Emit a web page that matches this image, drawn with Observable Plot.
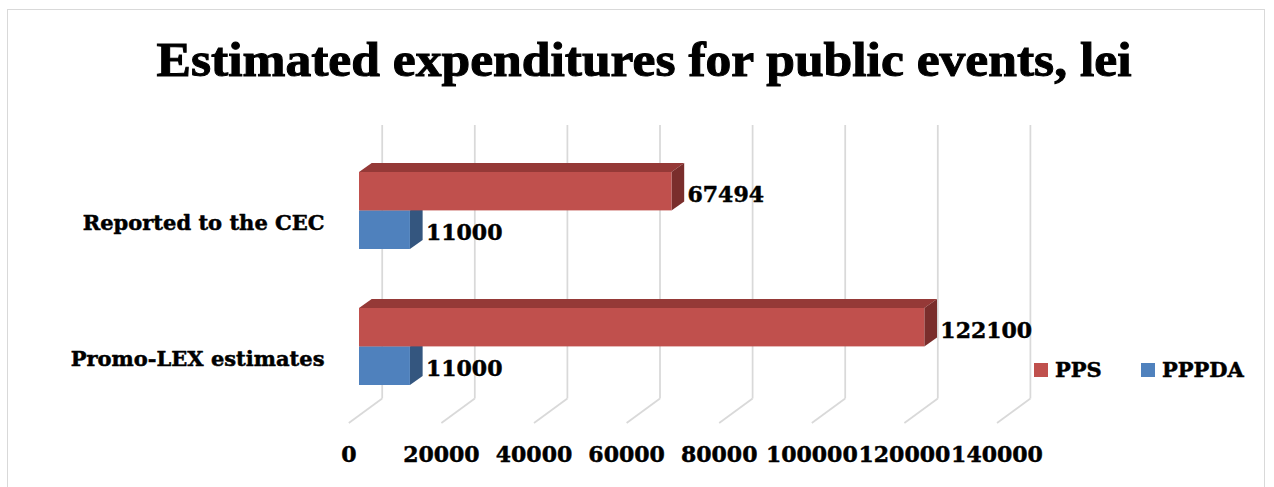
<!DOCTYPE html>
<html>
<head>
<meta charset="utf-8">
<script src="https://cdn.jsdelivr.net/npm/d3@7"></script>
<script src="https://cdn.jsdelivr.net/npm/@observablehq/plot@0.6"></script>
<style>
  body { margin: 0; background: #fff; }
  #wrap { position: relative; width: 1274px; height: 487px; overflow: hidden; background: #fff; }
  #frame { position: absolute; left: 7px; top: 9px; width: 1258px; height: 520px; border: 1.5px solid #d9d9d9; box-sizing: border-box; }
  #title { position: absolute; left: 0; top: 0; }
  #chart { position: absolute; left: 0; top: 0; }
  .leg { position: absolute; display: flex; align-items: center; font-family: "DejaVu Serif", serif; font-weight: bold; font-size: 21px; color: #000; -webkit-text-stroke: 0.5px #000; }
  .sw { width: 14px; height: 14px; margin-right: 7px; }
</style>
</head>
<body>
<div id="wrap">
  <div id="frame"></div>
  <svg id="title" width="1274" height="110">
    <text x="644" y="76" text-anchor="middle" textLength="975" lengthAdjust="spacingAndGlyphs"
      style="font-family:'Liberation Serif',serif;font-weight:bold;font-size:49px;fill:#000;stroke:#000;stroke-width:1px">Estimated expenditures for public events, lei</text>
  </svg>
  <div id="chart"></div>
  <div class="leg" style="left:1034px;top:357px;"><div class="sw" style="background:#C0504D"></div>PPS</div>
  <div class="leg" style="left:1141px;top:357px;"><div class="sw" style="background:#4F81BD"></div>PPPDA</div>
</div>
<script>
// ---- data ----
const categories = ["Reported to the CEC", "Promo-LEX estimates"];
const series = ["PPS", "PPPDA"];
const ppsValues = [67494, 122100];
const pppdaValues = [11000, 11000];
const xTicks = [0, 20000, 40000, 60000, 80000, 100000, 120000, 140000];

// ---- styles ----
const colors = {
  PPS:   { front: "#C0504D", top: "#953937", side: "#7A2E2C" },
  PPPDA: { front: "#4F81BD", top: "#3B6192", side: "#34567F" }
};
const BAR_DX = 12.7, BAR_DY = 9;          // bar depth (pixels)
const FLOOR_DX = -10.7, FLOOR_DY = 7.8;    // front edge of floor relative to bar plane
const WALL_DX = 22.7, WALL_DY = -16.7;     // back wall relative to bar plane
const HALF = 38.6;                          // half band for the two series

const ppsRows = categories.map((c, i) => ({ category: c, series: "PPS", value: ppsValues[i] }));
const pppdaRows = categories.map((c, i) => ({ category: c, series: "PPPDA", value: pppdaValues[i] }));

const NS = "http://www.w3.org/2000/svg";
function poly(pts, fill) {
  const p = document.createElementNS(NS, "polygon");
  p.setAttribute("points", pts.map(d => d.join(",")).join(" "));
  p.setAttribute("fill", fill);
  return p;
}
function bar3d(c) {
  return (index, scales, values, dims, ctx, next) => {
    const g = next(index, scales, values, dims, ctx);
    for (const r of Array.from(g.querySelectorAll("rect"))) {
      const x = +r.getAttribute("x"), y = +r.getAttribute("y");
      const w = +r.getAttribute("width"), h = +r.getAttribute("height");
      r.parentNode.insertBefore(poly([[x, y], [x + w, y], [x + w + BAR_DX, y - BAR_DY], [x + BAR_DX, y - BAR_DY]], c.top), r);
      r.parentNode.insertBefore(poly([[x + w, y], [x + w + BAR_DX, y - BAR_DY], [x + w + BAR_DX, y + h - BAR_DY], [x + w, y + h]], c.side), r);
    }
    return g;
  };
}
function floorRender(index, scales, values, dims, ctx, next) {
  const g = next(index, scales, values, dims, ctx);
  const fy = dims.height - dims.marginBottom;
  for (const ln of Array.from(g.querySelectorAll("line"))) {
    const X = +ln.getAttribute("x1");
    ln.setAttribute("x1", X + FLOOR_DX); ln.setAttribute("y1", fy + FLOOR_DY);
    ln.setAttribute("x2", X + WALL_DX);  ln.setAttribute("y2", fy + WALL_DY);
  }
  return g;
}

const textStyle = { fontSize: 22, fontWeight: "bold", fill: "#000", stroke: "#000", strokeWidth: 0.5 };

const chart = Plot.plot({
  width: 1274,
  height: 487,
  marginLeft: 359,
  marginRight: 266.8,
  marginTop: 141.7,
  marginBottom: 71.8,
  style: { fontFamily: "'DejaVu Serif', serif", background: "transparent", overflow: "visible" },
  x: { domain: [0, 140000], axis: null },
  y: { type: "band", domain: categories, paddingInner: 0.4346, paddingOuter: 0.218, axis: null },
  marks: [
    Plot.ruleX(xTicks, { x: d => d, dx: WALL_DX, dy: WALL_DY, stroke: "#d9d9d9", strokeWidth: 1.75 }),
    Plot.ruleX(xTicks, { x: d => d, stroke: "#d9d9d9", strokeWidth: 1.75, render: floorRender }),
    Plot.barX(pppdaRows, { x: "value", y: "category", insetTop: HALF, fill: colors.PPPDA.front, render: bar3d(colors.PPPDA) }),
    Plot.barX(ppsRows, { x: "value", y: "category", insetBottom: HALF, fill: colors.PPS.front, render: bar3d(colors.PPS) }),
    Plot.text(ppsRows, { x: "value", y: "category", text: d => String(d.value), dx: 15.5, dy: -16, textAnchor: "start", ...textStyle }),
    Plot.text(pppdaRows, { x: "value", y: "category", text: d => String(d.value), dx: 15.5, dy: 22, textAnchor: "start", ...textStyle }),
    Plot.text(xTicks, { x: d => d, frameAnchor: "bottom", text: d => String(d), dx: FLOOR_DX, dy: 46, ...textStyle }),
    Plot.text(categories, { y: d => d, frameAnchor: "left", text: d => d, dx: -35, dy: 12, textAnchor: "end", ...textStyle, fontSize: 21 })
  ]
});
document.getElementById("chart").appendChild(chart);
</script>
</body>
</html>
